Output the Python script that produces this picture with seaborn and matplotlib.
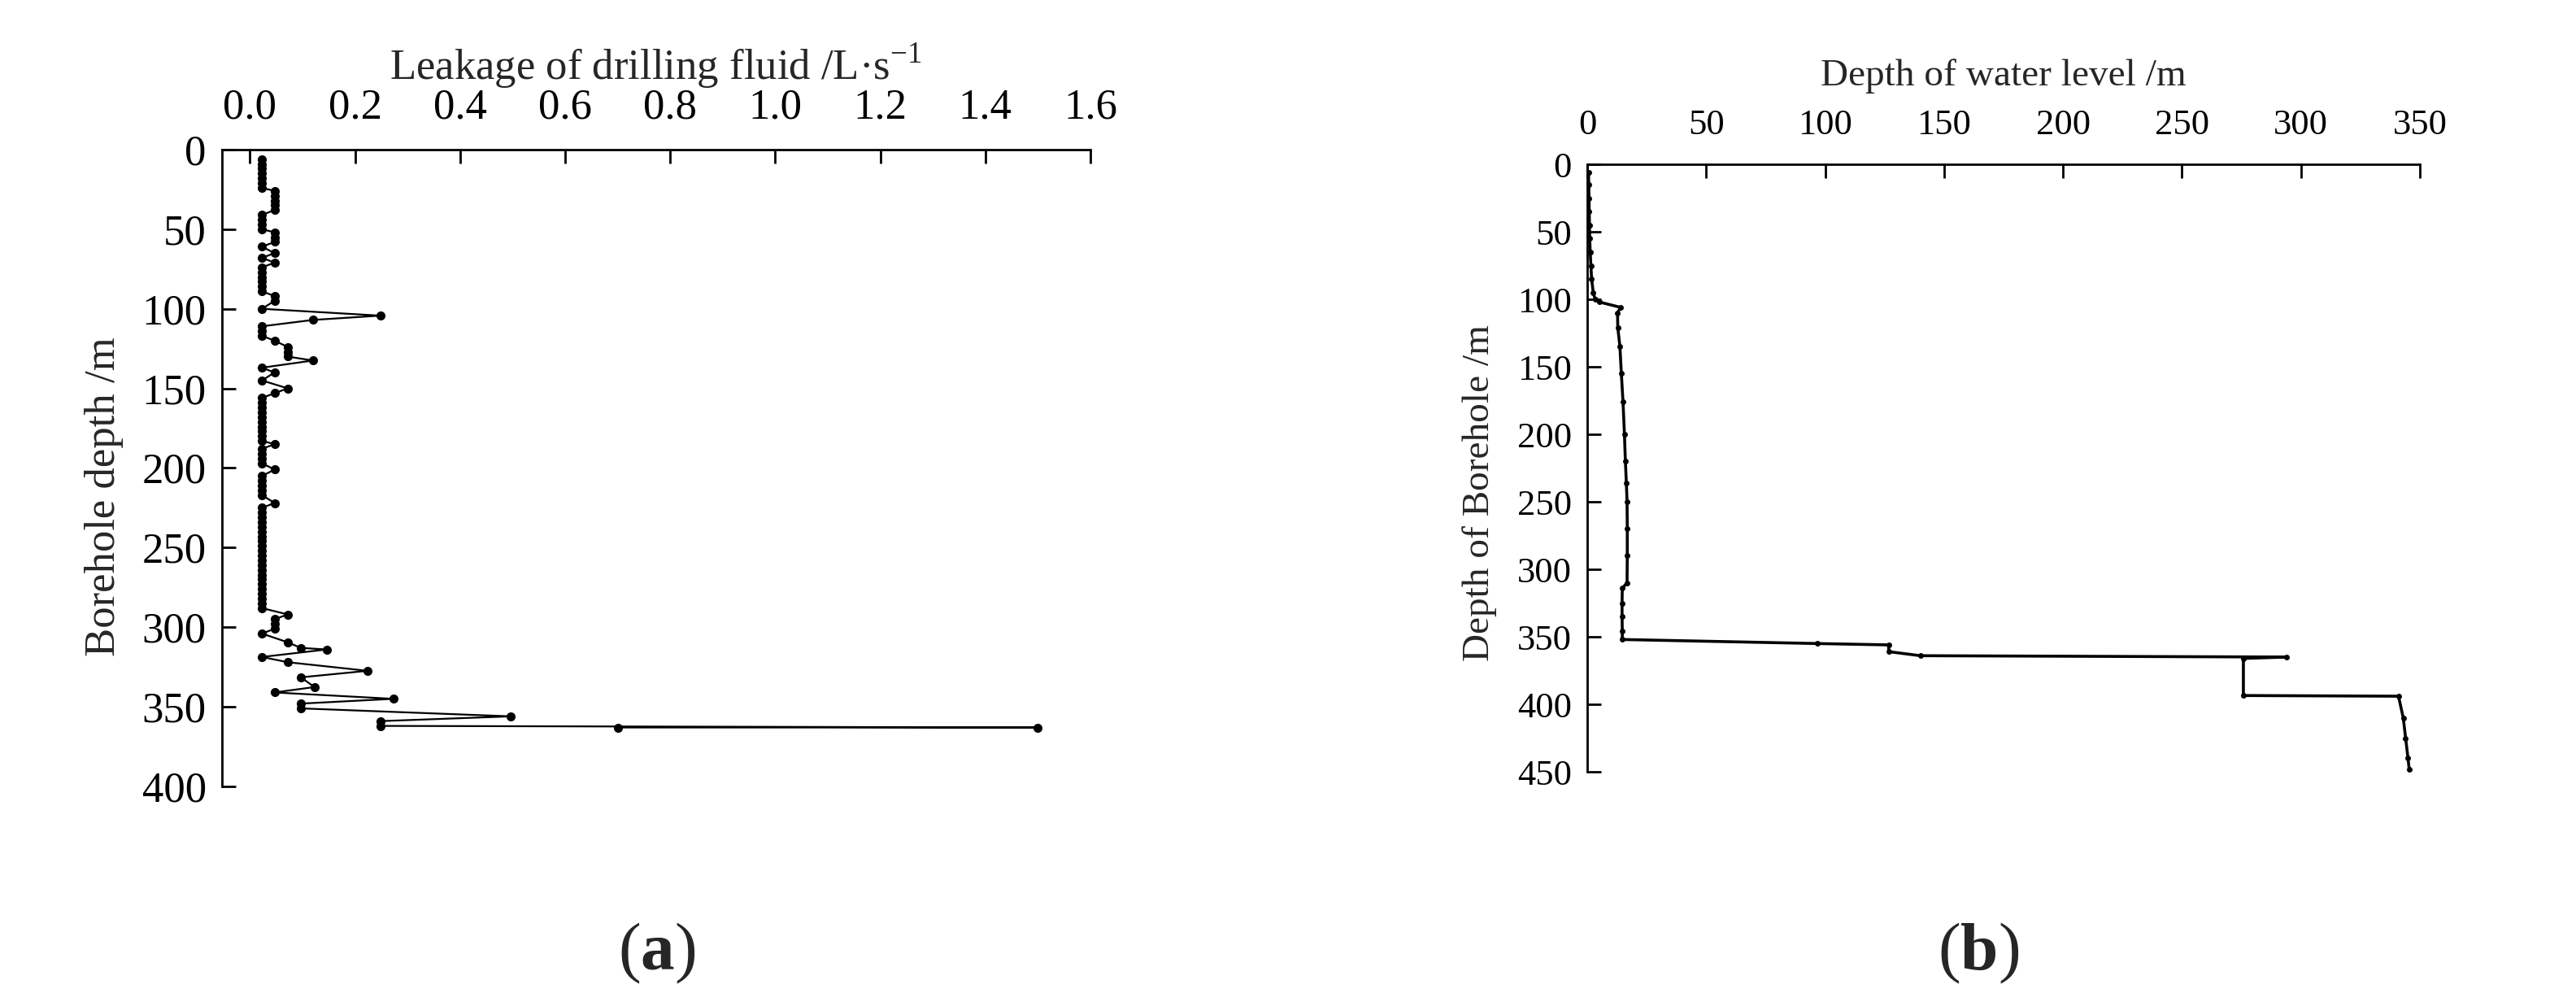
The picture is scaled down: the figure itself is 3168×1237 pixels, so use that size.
import numpy as np
import pandas as pd

import matplotlib
matplotlib.use("Agg")
import matplotlib.pyplot as plt
import seaborn as sns

# (a) leakage of drilling fluid vs borehole depth
leak_depth = [6, 9, 12, 15, 18, 21, 24, 26, 29, 32, 35, 38, 41, 44, 47, 50,
              52, 55, 58, 61, 65, 68, 71, 74, 77, 80, 83, 86, 89, 92, 95, 100,
              104.3, 107, 111, 114, 117, 120, 124, 127, 130, 132.5, 137, 140,
              145, 150, 153, 156, 159, 162, 165, 168, 171, 174, 177, 180, 183,
              185, 188, 191, 194, 197, 201, 205, 208, 211, 214, 217, 222,
              225, 228, 231, 234, 237, 240, 243, 246, 249, 252, 255, 258, 261,
              264, 267, 270, 273, 276, 279, 282, 285, 288, 292, 295, 298, 301,
              304, 309.5, 313, 314, 318.7, 322, 327.4, 331.5, 337.6, 341, 345,
              348, 351, 356, 359, 362, 363, 363]
leak_rate = [0.023, 0.023, 0.023, 0.023, 0.023, 0.023, 0.023, 0.047, 0.047,
             0.047, 0.047, 0.047, 0.023, 0.023, 0.023, 0.023, 0.047, 0.047,
             0.047, 0.023, 0.047, 0.023, 0.047, 0.023, 0.023, 0.023, 0.023,
             0.023, 0.023, 0.047, 0.047, 0.023, 0.248, 0.12, 0.023, 0.023,
             0.023, 0.047, 0.072, 0.072, 0.072, 0.12, 0.023, 0.047, 0.023,
             0.072, 0.047, 0.023, 0.023, 0.023, 0.023, 0.023, 0.023, 0.023,
             0.023, 0.023, 0.023, 0.047, 0.023, 0.023, 0.023, 0.023, 0.047,
             0.023, 0.023, 0.023, 0.023, 0.023, 0.047, 0.023, 0.023, 0.023,
             0.023, 0.023, 0.023, 0.023, 0.023, 0.023, 0.023, 0.023, 0.023,
             0.023, 0.023, 0.023, 0.023, 0.023, 0.023, 0.023, 0.023, 0.023,
             0.023, 0.072, 0.047, 0.047, 0.047, 0.023, 0.072, 0.097, 0.146,
             0.023, 0.072, 0.224, 0.097, 0.123, 0.047, 0.273, 0.097, 0.097,
             0.497, 0.248, 0.248, 1.5, 0.7]

# (b) depth of water level vs borehole depth
wl_depth = [6, 15, 25, 35, 45, 55, 65, 75, 85, 95, 100, 102, 106, 110, 121,
            135, 155, 176, 200, 220, 236, 250, 270, 290, 310, 314, 325, 335,
            346, 352, 355, 356, 361, 364, 365, 366, 393.5, 394, 410, 425,
            440, 448]
wl_level = [0.5, 0.6, 0.7, 0.8, 0.9, 1.0, 1.2, 1.5, 1.8, 2.5, 3.3, 5.0, 14.0,
            12.7, 12.8, 13.7, 14.3, 15.0, 15.6, 16.0, 16.4, 16.7, 16.8, 16.8,
            16.7, 14.7, 14.6, 14.6, 14.7, 14.7, 96.8, 126.7, 126.7, 140.0,
            294.0, 275.8, 275.8, 341.0, 343.0, 344.0, 345.0, 345.5]

df_a = pd.DataFrame({"leak": leak_rate, "depth": leak_depth})
df_b = pd.DataFrame({"level": wl_level, "depth": wl_depth})

sns.set_style("ticks")
plt.rcParams["font.family"] = ["Liberation Serif", "DejaVu Serif"]
plt.rcParams["mathtext.fontset"] = "custom"
plt.rcParams["mathtext.rm"] = "Liberation Serif"
plt.rcParams["mathtext.bf"] = "Liberation Serif:bold"

fig = plt.figure(figsize=(31.68, 12.37), dpi=100)
fig.patch.set_facecolor("white")

ax_a = fig.add_axes([0.0862, 0.2183, 0.3371, 0.6330])
ax_b = fig.add_axes([0.6162, 0.2328, 0.3232, 0.6039])

sns.lineplot(data=df_a, x="leak", y="depth", sort=False, estimator=None,
             color="black", linewidth=1.6, marker="o", markersize=8,
             markeredgewidth=0, ax=ax_a)
sns.lineplot(data=df_b, x="level", y="depth", sort=False, estimator=None,
             color="black", linewidth=2.6, marker="o", markersize=5,
             markeredgewidth=0, ax=ax_b)


def style_axes(ax, fs, xticks, yticks, xlim, ylim, xfmt):
    ax.set_facecolor("white")
    ax.xaxis.tick_top()
    ax.xaxis.set_label_position("top")
    ax.spines["right"].set_visible(False)
    ax.spines["bottom"].set_visible(False)
    for s in ["left", "top"]:
        ax.spines[s].set_linewidth(2.0)
        ax.spines[s].set_color("black")
    ax.set_xlim(*xlim)
    ax.set_ylim(*ylim)
    ax.set_xticks(xticks)
    ax.set_xticklabels([xfmt.format(v) for v in xticks])
    ax.set_yticks(yticks)
    ax.tick_params(axis="both", direction="in", length=12, width=2,
                   labelsize=fs, colors="black")
    ax.tick_params(axis="x", pad=20, top=True, bottom=False)
    ax.tick_params(axis="y", pad=14)


style_axes(ax_a, 38, np.arange(0, 1.61, 0.2), np.arange(0, 401, 50),
           (-0.053, 1.6), (400, 0), "{:.1f}")
style_axes(ax_b, 32, np.arange(0, 351, 50), np.arange(0, 451, 50),
           (0, 350), (450, 0), "{:.0f}")

ax_a.set_xlabel(r"Leakage of drilling fluid /L·s$^{-1}$", fontsize=38)
ax_a.set_ylabel("Borehole depth /m", fontsize=38)
ax_a.xaxis.set_label_coords(0.499, 1.11)
ax_a.yaxis.set_label_coords(-0.113, 0.455)

ax_b.set_xlabel("Depth of water level /m", fontsize=34)
ax_b.set_ylabel("Depth of Borehole /m", fontsize=34)
ax_b.xaxis.set_label_coords(0.5, 1.13)
ax_b.yaxis.set_label_coords(-0.109, 0.459)

fig.text(0.255, 0.0525, r"($\mathbf{a}$)", fontsize=60, ha="center", va="center")
fig.text(0.768, 0.0525, r"($\mathbf{b}$)", fontsize=60, ha="center", va="center")

fig.savefig("out.png", dpi=100, facecolor="white")
